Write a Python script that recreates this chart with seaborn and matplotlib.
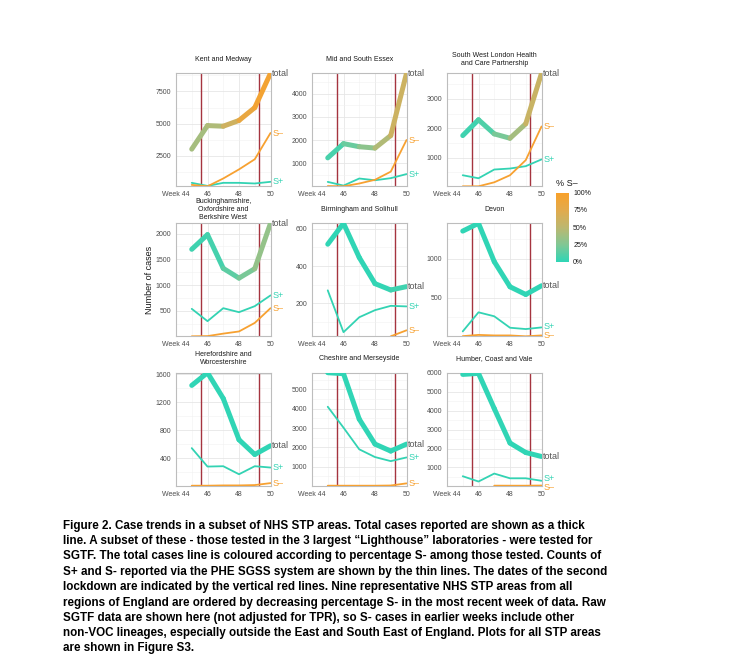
import matplotlib
matplotlib.use("Agg")
import matplotlib.pyplot as plt
import seaborn as sns
import pandas as pd
import numpy as np
from matplotlib.colors import LinearSegmentedColormap, Normalize
from matplotlib.collections import LineCollection
from matplotlib.cm import ScalarMappable

# ---- data ----
weeks = [45, 46, 47, 48, 49, 50]
lockdown_weeks = [45.57, 49.29]

keys = ["kent", "essex", "swl", "bucks", "birm", "devon", "heref", "cheshire", "humber"]
titles = ["Kent and Medway", "Mid and South Essex",
          "South West London Health\nand Care Partnership",
          "Buckinghamshire,\nOxfordshire and\nBerkshire West",
          "Birmingham and Solihull", "Devon",
          "Herefordshire and\nWorcestershire", "Cheshire and Merseyside",
          "Humber, Coast and Vale"]

total = {
    "kent":     [3000, 4840, 4790, 5240, 6240, 8920],
    "essex":    [1233, 1844, 1713, 1655, 2194, 4870],
    "swl":      [1754, 2291, 1811, 1663, 2154, 3870],
    "bucks":    [1695, 1980, 1325, 1136, 1318, 2200],
    "birm":     [517, 629, 446, 306, 272, 290],
    "devon":    [1353, 1453, 961, 638, 539, 651],
    "heref":    [1442, 1624, 1255, 664, 453, 578],
    "cheshire": [5860, 5810, 3460, 2170, 1810, 2170],
    "humber":   [5910, 5965, 4110, 2290, 1790, 1580],
}
s_pos = {
    "kent":     [370, 130, 370, 370, 320, 450],
    "essex":    [200, 40, 345, 270, 360, 535],
    "swl":      [406, 303, 600, 634, 714, 943],
    "bucks":    [539, 300, 552, 474, 591, 800],
    "birm":     [270, 46, 126, 164, 187, 184],
    "devon":    [65, 310, 259, 112, 95, 116],
    "heref":    [544, 280, 285, 170, 285, 266],
    "cheshire": [4100, 3020, 1900, 1500, 1290, 1480],
    "humber":   [540, 260, 680, 430, 430, 300],
}
s_neg = {
    "kent":     [210, 100, 710, 1420, 2210, 4260],
    "essex":    [20, 10, 130, 290, 640, 2000],
    "swl":      [30, 30, 166, 406, 920, 2063],
    "bucks":    [6, 10, 58, 100, 266, 552],
    "birm":     [np.nan, np.nan, np.nan, np.nan, 24, 56],
    "devon":    [4, 20, 13, 13, 2, 13],
    "heref":    [6, 6, 10, 10, 15, 43],
    "cheshire": [20, 20, 20, 20, 30, 140],
    "humber":   [np.nan, np.nan, 42, 40, 40, 50],
}
# % S- among those tested (colour of the total line)
pct_sneg = {
    "kent":     [40, 40, 48, 75, 90, 97],
    "essex":    [5, 10, 25, 35, 55, 65],
    "swl":      [5, 5, 15, 30, 50, 65],
    "bucks":    [5, 5, 8, 20, 25, 40],
    "birm":     [0, 0, 0, 0, 2, 8],
    "devon":    [0, 0, 0, 0, 0, 0],
    "heref":    [0, 0, 0, 0, 0, 0],
    "cheshire": [0, 0, 0, 0, 0, 0],
    "humber":   [0, 0, 0, 0, 0, 0],
}
y_breaks = {
    "kent": [2500, 5000, 7500],
    "essex": [1000, 2000, 3000, 4000],
    "swl": [1000, 2000, 3000],
    "bucks": [500, 1000, 1500, 2000],
    "birm": [200, 400, 600],
    "devon": [500, 1000],
    "heref": [400, 800, 1200, 1600],
    "cheshire": [1000, 2000, 3000, 4000, 5000],
    "humber": [1000, 2000, 3000, 4000, 5000, 6000],
}
caption = [
    "Figure 2. Case trends in a subset of NHS STP areas. Total cases reported are shown as a thick",
    "line. A subset of these - those tested in the 3 largest \u201cLighthouse\u201d laboratories - were tested for",
    "SGTF. The total cases line is coloured according to percentage S- among those tested. Counts of",
    "S+ and S- reported via the PHE SGSS system are shown by the thin lines. The dates of the second",
    "lockdown are indicated by the vertical red lines. Nine representative NHS STP areas from all",
    "regions of England are ordered by decreasing percentage S- in the most recent week of data. Raw",
    "SGTF data are shown here (not adjusted for TPR), so S- cases in earlier weeks include other",
    "non-VOC lineages, especially outside the East and South East of England. Plots for all STP areas",
    "are shown in Figure S3.",
]

TEAL = "#33D3B3"
ORANGE = "#F7A131"
RED = "#A5343F"
cmap = LinearSegmentedColormap.from_list(
    "sneg", ["#30D5B5", "#82C794", "#BDB76F", "#E2AA4C", "#F9A12A"])
norm = Normalize(0, 100)

sns.set_theme(style="whitegrid")
plt.rcParams["font.family"] = ["Liberation Sans", "DejaVu Sans"]

W, H = 746, 669
fig = plt.figure(figsize=(W / 100, H / 100), dpi=100)
fig.patch.set_facecolor("white")

col_left = [176, 312, 447]
row_top = [73.3, 223.3, 372.7]
title_y = [59.3, 209.5, 358.7]
pw, ph = 94.5, 113

for i, key in enumerate(keys):
    r, c = divmod(i, 3)
    ax = fig.add_axes([col_left[c] / W, 1 - (row_top[r] + ph) / H, pw / W, ph / H])
    ax.set_facecolor("white")

    d = pd.DataFrame({"week": weeks, "S+": s_pos[key], "S\u2013": s_neg[key]})
    d = d.melt("week", var_name="series", value_name="cases").dropna()
    sns.lineplot(data=d, x="week", y="cases", hue="series",
                 palette={"S+": TEAL, "S\u2013": ORANGE}, lw=1.3,
                 legend=False, ax=ax, zorder=3)

    pts = np.column_stack([weeks, total[key]])
    segs = np.stack([pts[:-1], pts[1:]], axis=1)
    p = np.array(pct_sneg[key], dtype=float)
    lc = LineCollection(segs, colors=cmap(norm((p[:-1] + p[1:]) / 2)),
                        linewidths=3.6, capstyle="round", joinstyle="round", zorder=4)
    ax.add_collection(lc)

    for x in lockdown_weeks:
        ax.axvline(x, color=RED, lw=1.0, zorder=2)

    allv = np.concatenate([total[key], s_pos[key], s_neg[key]]).astype(float)
    lo, hi = np.nanmin(allv), np.nanmax(allv)
    ax.set_xlim(44, 50)
    ax.set_ylim(lo, hi)

    ax.set_xticks([44, 46, 48, 50])
    ax.set_xticklabels(["Week 44", "46", "48", "50"])
    ax.set_xticks([45, 47, 49], minor=True)
    br = y_breaks[key]
    step = br[1] - br[0]
    minors = [b - step / 2 for b in br] + [br[-1] + step / 2]
    ax.set_yticks(br)
    ax.set_yticks([m for m in minors if lo < m < hi], minor=True)
    ax.grid(which="major", color="#E6E6E6", lw=0.6)
    ax.grid(which="minor", color="#F1F1F1", lw=0.4)
    ax.tick_params(which="both", labelsize=5, colors="#BBBBBB", labelcolor="#4D4D4D",
                   length=2, width=0.5, pad=1.5)
    ax.tick_params(which="minor", length=0)
    ax.set_xlabel("")
    ax.set_ylabel("")
    for s in ax.spines.values():
        s.set_color("#BDBDBD")
        s.set_linewidth(0.8)

    fig.text((col_left[c] + pw / 2) / W, 1 - title_y[r] / H, titles[i], fontsize=5,
             ha="center", va="center", linespacing=1.15, color="#1A1A1A")

    # end-of-line labels; nudge S+ / S- apart when they would sit on top of each other
    y_pix = lambda v: ax.transData.transform((50, v))[1]
    sp, sn = s_pos[key][-1], s_neg[key][-1]
    gap = y_pix(sp) - y_pix(sn)
    shift = max(0.0, (9 - abs(gap)) / 2) * 0.72 * (1 if gap >= 0 else -1)
    for txt, val, col, dy in [("total", total[key][-1], "#555555", 0),
                              ("S+", sp, TEAL, shift),
                              ("S\u2013", sn, ORANGE, -shift)]:
        ax.annotate(txt, xy=(50, val), xytext=(1.2, dy), textcoords="offset points",
                    va="center", ha="left", fontsize=6.5, color=col,
                    annotation_clip=False, zorder=5)

# colour bar for % S-
cax = fig.add_axes([555.7 / W, 1 - 261.7 / H, 13.3 / W, 69 / H])
cb = fig.colorbar(ScalarMappable(norm=norm, cmap=cmap), cax=cax)
cb.outline.set_visible(False)
cb.set_ticks([0, 25, 50, 75, 100])
cb.set_ticklabels(["0%", "25%", "50%", "75%", "100%"])
cax.tick_params(labelsize=5, length=2, width=0.6, colors="white", labelcolor="#1A1A1A",
                direction="in", pad=3)
fig.text(556 / W, 1 - 184 / H, "% S\u2013", fontsize=6.5, ha="left", va="center",
         color="#1A1A1A")

fig.text(150 / W, 1 - 280 / H, "Number of cases", rotation=90, fontsize=6.5,
         ha="center", va="center", color="#1A1A1A")

cap_y = [525.7, 540.9, 556.5, 572, 587.3, 602.7, 618, 633.3, 648.5]
for line, y in zip(caption, cap_y):
    fig.text(63 / W, 1 - y / H, line, fontsize=8.35, fontweight="bold",
             ha="left", va="center", color="black")

fig.savefig("out.png", dpi=100)
